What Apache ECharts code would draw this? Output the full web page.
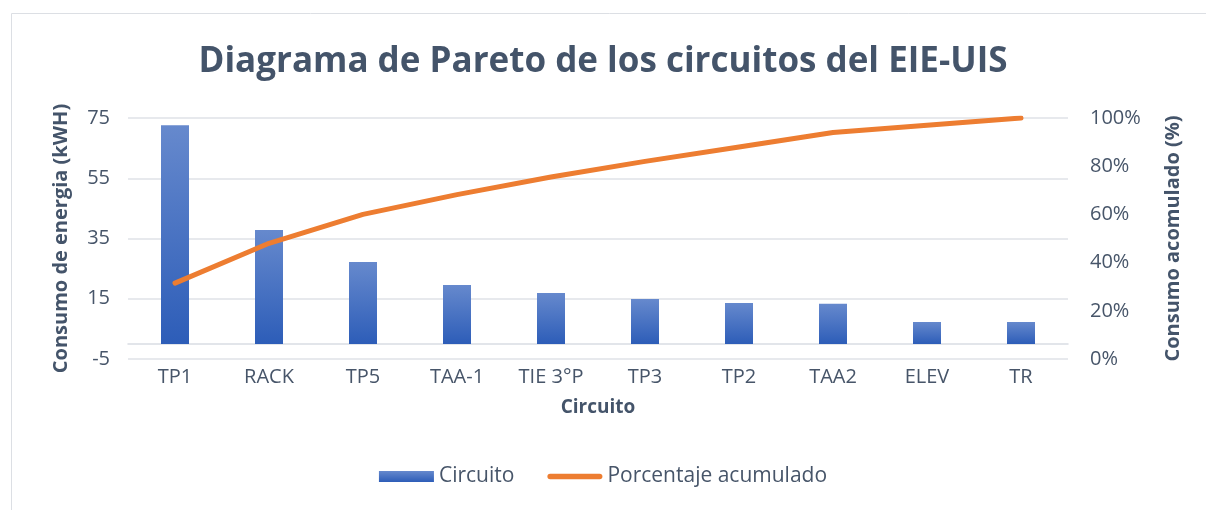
<!DOCTYPE html>
<html lang="es">
<head>
    <meta charset="UTF-8"/>
    <title>Diagrama de Pareto</title>
    <script src="https://cdn.jsdelivr.net/npm/echarts@6/dist/echarts.min.js"></script>
    <style>
        html, body { margin: 0; padding: 0; background: #fff; }
    </style>
</head>
<body>
<div id="main" style="width: 1206px; height: 510px;"></div>
<script type="text/javascript">
    // data
    var circuitos = ['TP1', 'RACK', 'TP5', 'TAA-1', 'TIE 3°P', 'TP3', 'TP2', 'TAA2', 'ELEV', 'TR'];
    var consumo = [72.6, 37.8, 27.2, 19.6, 16.9, 14.9, 13.6, 13.3, 7.3, 7.3];
    var acumulado = [31.5, 48, 60, 68.2, 75.5, 82, 88, 94, 97, 100];

    var txt = '#475569';
    var font = '"Open Sans", "Noto Sans", sans-serif';

    var myChart = echarts.init(document.getElementById('main'));

    option = {
        backgroundColor: '#fff',
        textStyle: { fontFamily: font },
        graphic: [{
            type: 'rect',
            shape: { x: 11.5, y: 13.5, width: 1220, height: 520 },
            style: { fill: 'none', stroke: '#dcdfe4', lineWidth: 1 },
            silent: true
        }],
        title: {
            text: 'Diagrama de Pareto de los circuitos del EIE-UIS',
            left: 'center',
            top: 40,
            textStyle: { fontSize: 35, fontWeight: 'bold', color: '#44546a', fontFamily: font }
        },
        legend: {
            bottom: 18,
            left: 'center',
            itemGap: 33,
            itemWidth: 55,
            itemHeight: 11,
            textStyle: { fontSize: 21, color: txt, fontFamily: font },
            data: [
                { name: 'Circuito', icon: 'rect' },
                { name: 'Porcentaje acumulado', icon: 'path://M5,0 L95,0 A5,5 0 0 1 95,10 L5,10 A5,5 0 0 1 5,0 Z' }
            ]
        },
        grid: { left: 128, right: 138, top: 118, bottom: 151 },
        xAxis: {
            type: 'category',
            data: circuitos,
            name: 'Circuito',
            nameLocation: 'middle',
            nameGap: 39,
            nameTextStyle: { fontSize: 19, fontWeight: 'bold', color: '#44546a' },
            axisLine: { onZero: true, lineStyle: { color: '#d9dde3', width: 1.5 } },
            axisTick: { show: false },
            axisLabel: { margin: 8, fontSize: 20, color: txt }
        },
        yAxis: [{
            type: 'value',
            min: -5,
            max: 75,
            interval: 20,
            name: 'Consumo de energia (kWH)',
            nameLocation: 'middle',
            nameGap: 57,
            nameTextStyle: { fontSize: 20, fontWeight: 'bold', color: '#44546a' },
            axisLine: { show: false },
            axisTick: { show: false },
            axisLabel: { fontSize: 20, color: txt, margin: 18 },
            splitLine: { lineStyle: { color: '#dfe2e7', width: 1.5 } }
        }, {
            type: 'value',
            min: 0,
            max: 100,
            interval: 20,
            name: 'Consumo acomulado (%)',
            nameLocation: 'middle',
            nameGap: 95,
            nameRotate: 90,
            nameTextStyle: { fontSize: 20, fontWeight: 'bold', color: '#44546a' },
            axisLine: { show: false },
            axisTick: { show: false },
            axisLabel: { fontSize: 20, color: txt, margin: 22, formatter: '{value}%' },
            splitLine: { show: false }
        }],
        series: [{
            name: 'Circuito',
            type: 'bar',
            data: consumo,
            barWidth: 28,
            itemStyle: {
                color: new echarts.graphic.LinearGradient(0, 0, 0, 1, [
                    { offset: 0, color: '#6689cd' },
                    { offset: 1, color: '#2d5db8' }
                ])
            }
        }, {
            name: 'Porcentaje acumulado',
            type: 'line',
            yAxisIndex: 1,
            data: acumulado,
            symbol: 'none',
            lineStyle: { color: '#ed7d31', width: 5, cap: 'round', join: 'round' },
            itemStyle: { color: '#ed7d31' }
        }]
    };

    myChart.setOption(option);
</script>
</body>
</html>
